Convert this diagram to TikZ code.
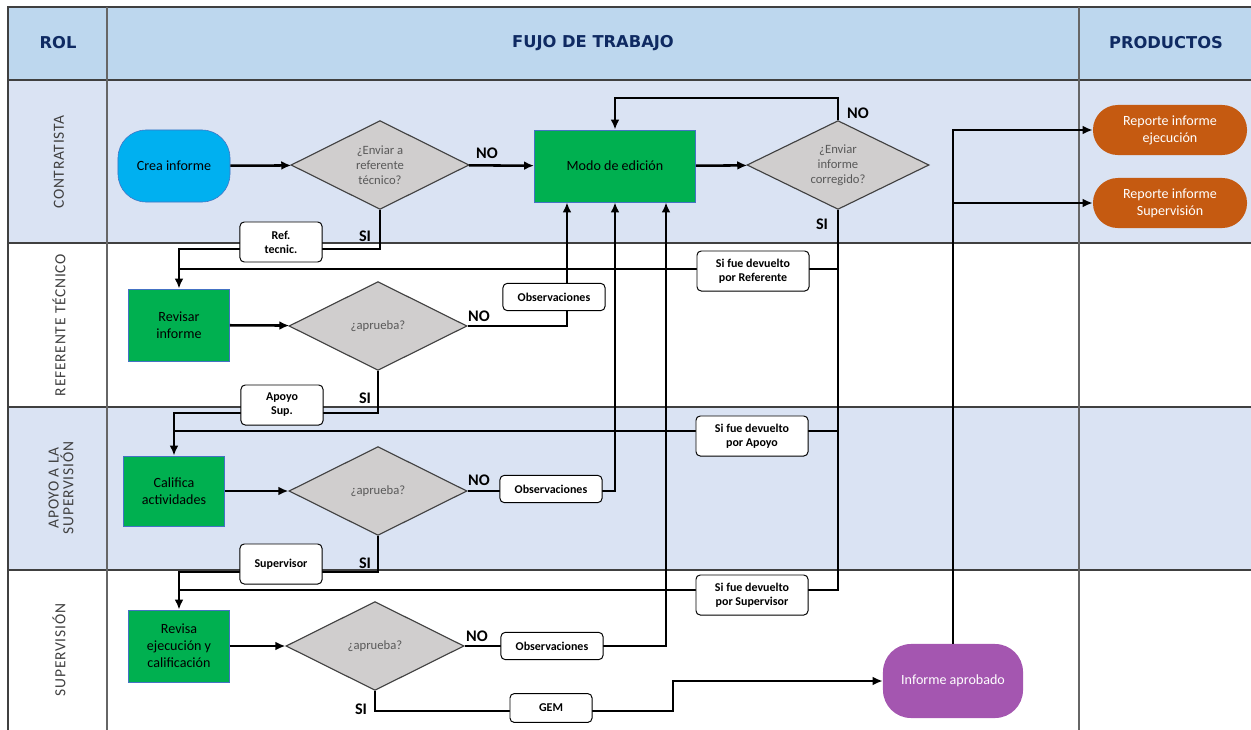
\documentclass[tikz,border=0pt]{standalone}
\usepackage{fontspec}
\setmainfont{Carlito}
\newfontfamily\lanefont[LetterSpace=5]{Carlito}
\newfontfamily\headfont{DejaVu Sans}
\usetikzlibrary{arrows.meta,shapes.geometric}
\definecolor{headblue}{HTML}{BDD7EE}
\definecolor{laneblue}{HTML}{DAE3F3}
\definecolor{headnavy}{HTML}{0F2A62}
\definecolor{gridgray}{HTML}{404040}
\definecolor{taskgreen}{HTML}{00B050}
\definecolor{taskedge}{HTML}{4472C4}
\definecolor{startcyan}{HTML}{00B0F0}
\definecolor{askgray}{HTML}{D0CECE}
\definecolor{asktext}{HTML}{595959}
\definecolor{okpurple}{HTML}{A456B0}
\definecolor{prodorange}{HTML}{C55A11}
\tikzset{
  grid/.style={draw=gridgray, line width=1.2pt},
  colline/.style={draw=gray!80!black, line width=1.2pt},
  headtext/.style={
    font=\headfont\fontsize{11.6}{13}\selectfont\bfseries,
    text=headnavy
  },
  lanetext/.style={
    rotate=90,
    align=center,
    font=\lanefont\fontsize{11}{10.5}\selectfont,
    text=gridgray
  },
  startbox/.style={
    rounded corners=0.7cm,
    draw=taskedge,
    fill=startcyan,
    minimum width=2.8cm,
    minimum height=1.8cm,
    align=center,
    font=\fontsize{10}{12}\selectfont
  },
  taskbox/.style={
    draw=taskedge,
    fill=taskgreen,
    line width=0.6pt,
    minimum width=2.525cm,
    minimum height=1.8cm,
    align=center,
    font=\fontsize{10}{12}\selectfont
  },
  askbox/.style={
    diamond,
    aspect=2,
    inner sep=0pt,
    draw=gridgray,
    fill=askgray,
    line width=0.8pt,
    minimum width=4.45cm,
    minimum height=2.22cm,
    align=center,
    text=asktext,
    font=\fontsize{9}{10.5}\selectfont
  },
  tagbox/.style={
    rounded corners=3pt,
    draw=black,
    fill=white,
    line width=0.7pt,
    minimum width=2.05cm,
    minimum height=1cm,
    inner sep=1pt,
    align=center,
    font=\fontsize{8.5}{10}\selectfont\bfseries
  },
  okbox/.style={
    rounded corners=0.7cm,
    fill=okpurple,
    minimum width=3.5cm,
    minimum height=1.85cm,
    align=center,
    text=white,
    font=\fontsize{10}{12}\selectfont
  },
  prodbox/.style={
    rounded corners=0.62cm,
    fill=prodorange,
    minimum width=3.85cm,
    minimum height=1.25cm,
    align=center,
    text=white,
    font=\fontsize{10}{12}\selectfont
  },
  yesno/.style={font=\fontsize{11.5}{13}\selectfont\bfseries},
  link/.style={line width=1.8pt, draw=black},
  arrow/.style={
    -{Latex[length=2.5mm,width=2.2mm]},
    line width=1.8pt,
    draw=black
  }
}
\begin{document}
\begin{tikzpicture}[x=0.025cm,y=-0.025cm]
\useasboundingbox (0,0) rectangle (1251,730);
% bands and grid
\fill[headblue] (8,7) rectangle (1251,80);
\fill[laneblue] (8,80) rectangle (1251,243);
\fill[laneblue] (8,407) rectangle (1251,570);
\draw[grid] (8,731) -- (8,7) -- (1251,7);
\foreach \y in {80,243,407,570}
  \draw[grid] (8,\y) -- (1251,\y);
\draw[colline] (107,7) -- (107,731);
\draw[colline] (1079,7) -- (1079,731);

\node[headtext] (rol) at (58,43) {ROL};
\node[headtext] (flujo) at (593,43) {FUJO DE TRABAJO};
\node[headtext] (prod) at (1166,43) {PRODUCTOS};
\node[lanetext] (contr) at (59,162) {CONTRATISTA};
\node[lanetext] (refe) at (59,325) {REFERENTE TÉCNICO};
\node[lanetext] (apoyo) at (61,488) {APOYO A LA\\SUPERVISIÓN};
\node[lanetext] (super) at (59,650) {SUPERVISIÓN};

% flow nodes
\node[startbox] (crea) at (174,166) {Crea informe};
\node[askbox] (ask1) at (380,165) {¿Enviar a\\referente\\técnico?};
\node[taskbox, minimum width=4.025cm] (modo) at (615,166) {Modo de edición};
\node[askbox, minimum width=4.55cm] (ask2) at (838,165) {¿Enviar\\informe\\corregido?};
\node[taskbox] (rev) at (179,325) {Revisar\\informe};
\node[askbox] (ask3) at (378,326) {¿aprueba?};
\node[taskbox, minimum height=1.75cm] (cal) at (174,491) {Califica\\actividades};
\node[askbox] (ask4) at (378,491) {¿aprueba?};
\node[taskbox] (revisa) at (179,646) {Revisa\\ejecución y\\calificación};
\node[askbox] (ask5) at (375,646) {¿aprueba?};
\node[okbox] (aprob) at (953,681) {Informe aprobado};
\node[prodbox] (rep1) at (1170,130) {Reporte informe\\ejecución};
\node[prodbox] (rep2) at (1170,203) {Reporte informe\\Supervisión};

\coordinate (j1) at (179,269);
\coordinate (j2) at (174,431);
\coordinate (j3) at (179,590);
\coordinate (bend) at (673,711);

% connectors
\draw[arrow] (crea) -- (ask1);
\draw[arrow] (ask1) -- (modo);
\draw[arrow] (modo) -- (ask2);
\draw[arrow] (ask2.north) -- ++(0,-22) -| (modo.north);
\draw[arrow] (ask1.south) -- ++(0,39) -| (rev.north);
\draw[arrow] (rev) -- (ask3);
\draw[arrow] (ask3.east) -| ([xshift=-1.2cm]modo.south);
\draw[arrow] (ask3.south) -- ++(0,42) -| (cal.north);
\draw[arrow] (cal) -- (ask4);
\draw[arrow] (ask4.east) -| (modo.south);
\draw[arrow] (ask4.south) -- ++(0,36) -| (revisa.north);
\draw[arrow] (revisa) -- (ask5);
\draw[arrow] (ask5.east) -| ([xshift=1.275cm]modo.south);
\draw[arrow] (ask5.south) |- (bend) |- (aprob.west);
\draw[link] (ask2.south) |- (j3);
\draw[link] (ask2.south |- j1) -- (j1);
\draw[link] (ask2.south |- j2) -- (j2);
\draw[arrow] (aprob.north) |- (rep1.west);
\draw[arrow] (aprob.north |- rep2.west) -- (rep2.west);

% tags on the connectors
\node[tagbox] (reftec) at (281,242) {Ref.\\tecnic.};
\node[tagbox] (apsup) at (282,405) {Apoyo\\Sup.};
\node[tagbox] (supv) at (281,564) {Supervisor};
\node[tagbox, minimum width=2.55cm, minimum height=0.68cm] (obs1) at (554,297) {Observaciones};
\node[tagbox, minimum width=2.55cm, minimum height=0.68cm] (obs2) at (551,489) {Observaciones};
\node[tagbox, minimum width=2.55cm, minimum height=0.68cm] (obs3) at (552,646) {Observaciones};
\node[tagbox, minimum height=0.72cm] (gem) at (551,708) {GEM};
\node[tagbox, minimum width=2.8cm] (dev1) at (753,271) {Si fue devuelto\\por Referente};
\node[tagbox, minimum width=2.8cm] (dev2) at (752,436) {Si fue devuelto\\por Apoyo};
\node[tagbox, minimum width=2.8cm] (dev3) at (752,595) {Si fue devuelto\\por Supervisor};

\node[yesno] (no1) at (487,153) {NO};
\node[yesno] (no2) at (858,113) {NO};
\node[yesno] (no3) at (479,316) {NO};
\node[yesno] (no4) at (479,480) {NO};
\node[yesno] (no5) at (477,636) {NO};
\node[yesno] (si1) at (365,236) {SI};
\node[yesno] (si2) at (822,224) {SI};
\node[yesno] (si3) at (365,398) {SI};
\node[yesno] (si4) at (365,563) {SI};
\node[yesno] (si5) at (361,709) {SI};
\end{tikzpicture}
\end{document}
